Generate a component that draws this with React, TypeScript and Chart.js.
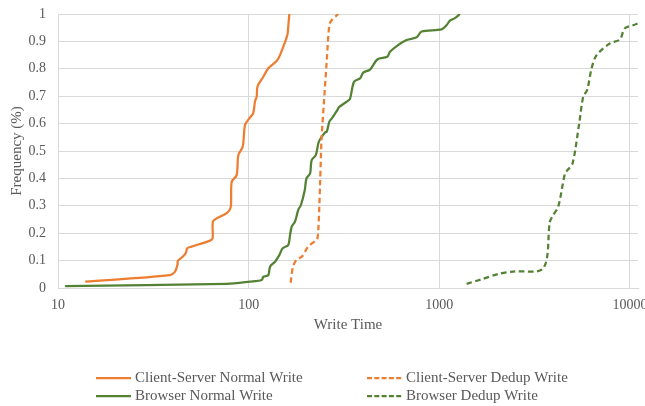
import React, { useEffect, useRef } from 'react';
import { Chart, registerables } from 'chart.js';

Chart.register(...registerables);

// ---- Data ----
const xTickValues = [10, 100, 1000, 10000];
const yTickStep = 0.1;

const seriesLabels = [
  'Client-Server Normal Write',
  'Client-Server Dedup Write',
  'Browser Normal Write',
  'Browser Dedup Write',
];

const csNormalX = [13.9, 38.6, 41.1, 42.3, 42.6, 45.1, 46.9, 47.6, 50.2, 62.7, 64.7, 64.9, 67.9, 76.7, 80.5, 81.5, 86.5, 88.3, 93.1, 95.7, 100.8, 105.7, 107.9, 110.2, 111.4, 119.4, 126.8, 141.4, 152.0, 159.6, 160.5, 163.4];
const csNormalY = [0.023, 0.047, 0.06, 0.084, 0.1, 0.114, 0.129, 0.145, 0.151, 0.173, 0.181, 0.242, 0.254, 0.273, 0.294, 0.388, 0.412, 0.485, 0.516, 0.595, 0.619, 0.638, 0.68, 0.699, 0.737, 0.771, 0.802, 0.832, 0.881, 0.923, 0.935, 1.0];

const csDedupX = [166, 171, 179, 190, 205, 225, 229, 232, 237, 241, 248, 257, 265, 273, 295];
const csDedupY = [0.019, 0.078, 0.105, 0.114, 0.151, 0.173, 0.178, 0.212, 0.382, 0.54, 0.674, 0.832, 0.96, 0.978, 1.0];

const brNormalX = [10.9, 76.7, 101.6, 117, 119.4, 126.8, 129.5, 137.5, 144.8, 150.8, 161.4, 164.8, 168.2, 175, 182, 188, 197, 201, 210, 214, 225, 232, 237, 251, 257, 265, 273, 292, 298, 327, 340, 357, 384, 399, 433, 473, 533, 551, 598, 674, 761, 808, 1029, 1093, 1137, 1208, 1283];
const brNormalY = [0.007, 0.015, 0.023, 0.029, 0.041, 0.047, 0.078, 0.096, 0.12, 0.145, 0.157, 0.193, 0.224, 0.242, 0.285, 0.303, 0.358, 0.4, 0.418, 0.467, 0.485, 0.528, 0.543, 0.567, 0.571, 0.607, 0.619, 0.65, 0.66, 0.68, 0.69, 0.753, 0.765, 0.786, 0.797, 0.834, 0.844, 0.862, 0.883, 0.905, 0.915, 0.936, 0.944, 0.96, 0.976, 0.985, 1.0];

const brDedupX = [1391, 1667, 2038, 2442, 3510, 3803, 3960, 4207, 4562, 4700, 5002, 5418, 5688, 5968, 6293, 6686, 7852, 8856, 9410, 10840, 11500];
const brDedupY = [0.015, 0.032, 0.051, 0.06, 0.072, 0.242, 0.266, 0.297, 0.418, 0.43, 0.455, 0.601, 0.698, 0.723, 0.802, 0.85, 0.893, 0.907, 0.948, 0.964, 0.985];

// ---- Styles ----
const ORANGE = '#ED7D31';
const GREEN = '#548235';
const TEXT = '#595959';
const GRID = '#d9d9d9';
const FONT = "'Liberation Serif', 'Times New Roman', serif";

const toPoints = (xs: number[], ys: number[]) => xs.map((x, i) => ({ x, y: ys[i] }));

const legendPlugin = {
  id: 'twoColLegend',
  afterDraw(chart: any) {
    const ctx = chart.ctx as CanvasRenderingContext2D;
    const ds = chart.data.datasets;
    const slots = [
      { i: 0, lx: 96, rx: 131, tx: 135, y: 378 },
      { i: 1, lx: 367, rx: 403, tx: 406, y: 378 },
      { i: 2, lx: 96, rx: 131, tx: 135, y: 396 },
      { i: 3, lx: 367, rx: 403, tx: 406, y: 396 },
    ];
    ctx.save();
    ctx.font = `15px ${FONT}`;
    ctx.textBaseline = 'middle';
    ctx.textAlign = 'left';
    for (const s of slots) {
      const d = ds[s.i];
      ctx.strokeStyle = d.borderColor;
      ctx.lineWidth = 2.25;
      ctx.setLineDash(d.borderDash && d.borderDash.length ? [5, 2.3] : []);
      ctx.beginPath();
      ctx.moveTo(s.lx, s.y);
      ctx.lineTo(s.rx, s.y);
      ctx.stroke();
      ctx.setLineDash([]);
      ctx.fillStyle = TEXT;
      ctx.fillText(d.label, s.tx, s.y);
    }
    ctx.restore();
  },
};

export default function App() {
  const ref = useRef<HTMLCanvasElement | null>(null);

  useEffect(() => {
    if (!ref.current) return;
    const common = { pointRadius: 0, pointHoverRadius: 0, borderWidth: 2.25, tension: 0.3, fill: false };
    const chart = new Chart(ref.current, {
      type: 'line',
      data: {
        datasets: [
          { ...common, label: seriesLabels[0], data: toPoints(csNormalX, csNormalY), borderColor: ORANGE, backgroundColor: ORANGE, borderDash: [] },
          { ...common, label: seriesLabels[1], data: toPoints(csDedupX, csDedupY), borderColor: ORANGE, backgroundColor: ORANGE, borderDash: [5.5, 3.5] },
          { ...common, label: seriesLabels[2], data: toPoints(brNormalX, brNormalY), borderColor: GREEN, backgroundColor: GREEN, borderDash: [] },
          { ...common, label: seriesLabels[3], data: toPoints(brDedupX, brDedupY), borderColor: GREEN, backgroundColor: GREEN, borderDash: [5.5, 3.5] },
        ] as any,
      },
      options: {
        animation: false,
        responsive: false,
        maintainAspectRatio: false,
        layout: { padding: { left: 0, top: 14, right: 7, bottom: 68 } },
        plugins: { legend: { display: false }, tooltip: { enabled: false } },
        scales: {
          x: {
            type: 'logarithmic',
            min: 10,
            max: 11020,
            afterBuildTicks: (s: any) => {
              s.ticks = xTickValues.map((v) => ({ value: v }));
            },
            afterFit: (s: any) => {
              s.height = 50;
              s.paddingLeft = 0;
              s.paddingRight = 0;
            },
            ticks: {
              autoSkip: false,
              maxRotation: 0,
              padding: 9,
              color: TEXT,
              font: { family: FONT, size: 14 },
              callback: (v: any) => String(v),
            },
            grid: { color: GRID, lineWidth: 1, drawTicks: false },
            border: { color: GRID },
            title: {
              display: true,
              text: 'Write Time',
              color: TEXT,
              font: { family: FONT, size: 15 },
              padding: { top: 4, bottom: 4 },
            },
          },
          y: {
            type: 'linear',
            min: 0,
            max: 1,
            afterFit: (s: any) => {
              s.width = 58;
              s.paddingTop = 0;
              s.paddingBottom = 0;
            },
            ticks: {
              stepSize: yTickStep,
              padding: 12,
              color: TEXT,
              font: { family: FONT, size: 14 },
              callback: (v: any) => String(Math.round(Number(v) * 10) / 10),
            },
            grid: { color: GRID, lineWidth: 1, drawTicks: false },
            border: { color: GRID },
            title: {
              display: true,
              text: 'Frequency (%)',
              color: TEXT,
              font: { family: FONT, size: 15 },
              padding: { top: 8, bottom: 0 },
            },
          },
        },
      } as any,
      plugins: [legendPlugin],
    });
    return () => chart.destroy();
  }, []);

  return (
    <div style={{ position: 'fixed', left: 0, top: 0, width: 645, height: 406, background: '#fff' }}>
      <canvas ref={ref} width={645} height={406} style={{ width: 645, height: 406, display: 'block' }} />
    </div>
  );
}
